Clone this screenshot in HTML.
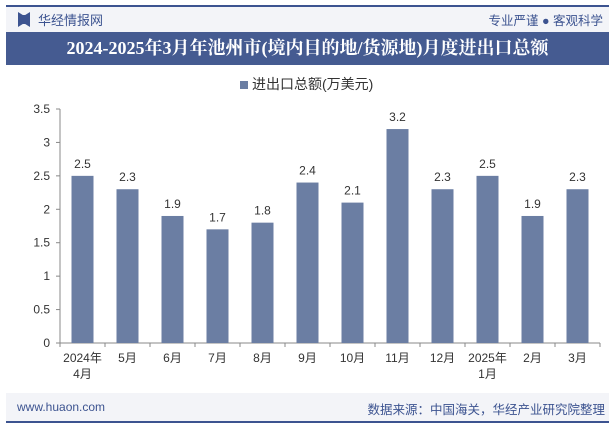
<!DOCTYPE html>
<html><head><meta charset="utf-8"><style>
body{margin:0;width:615px;height:427px;background:#fff;font-family:"Liberation Sans","Noto Sans CJK SC",sans-serif;overflow:hidden;position:relative}
.abs{position:absolute}
</style></head><body>
<div class="abs" style="left:6px;top:5px;width:603px;height:2px;background:#3c5390"></div>
<div class="abs" style="left:6px;top:7px;width:603px;height:25px;background:#f3f4f8"></div>
<div class="abs" style="left:18px;top:12px;width:12px;height:15px;background:#3c5390;clip-path:polygon(0 0,40% 20%,60% 20%,100% 0,100% 100%,60% 80%,40% 80%,0 100%)"></div>
<div class="abs" style="left:38px;top:10px;font-size:13px;color:#3c5390">华经情报网</div>
<div class="abs" style="right:12px;top:10px;font-size:12.5px;color:#3c5390">专业严谨 ● 客观科学</div>
<div class="abs" style="left:6px;top:32px;width:603px;height:33px;background:#455b91;color:#fff;font-size:18px;font-weight:bold;line-height:33px;text-align:center;font-family:'Liberation Serif','Noto Serif CJK SC',serif">2024-2025年3月年池州市(境内目的地/货源地)月度进出口总额</div>
<div class="abs" style="left:240px;top:74px;font-size:14px;color:#333"><span style="display:inline-block;width:8px;height:8px;background:#6b7ea3;margin-right:4px"></span>进出口总额(万美元)</div>
<svg class="abs" style="left:0;top:0" width="615" height="427">
<g id="g"></g>
</svg>
<div class="abs" style="left:6px;top:393px;width:603px;height:28px;background:#f3f4f8"></div>
<div class="abs" style="left:6px;top:421px;width:603px;height:2px;background:#3c5390"></div>
<div class="abs" style="left:17px;top:400px;font-size:12px;color:#3c5390">www.huaon.com</div>
<div class="abs" style="right:10px;top:399px;font-size:12.5px;color:#3c5390">数据来源：中国海关，华经产业研究院整理</div>
<script>
const categories=["2024年\n4月","5月","6月","7月","8月","9月","10月","11月","12月","2025年\n1月","2月","3月"];
const values=[2.5,2.3,1.9,1.7,1.8,2.4,2.1,3.2,2.3,2.5,1.9,2.3];
const yTicks=[0,0.5,1,1.5,2,2.5,3,3.5];
const NS="http://www.w3.org/2000/svg",g=document.getElementById('g');
const x0=60,x1=600,y0=343,yTop=109,yMax=3.5;
const band=(x1-x0)/categories.length;
const y=v=>y0-(v/yMax)*(y0-yTop);
function mk(t,a,txt){const e=document.createElementNS(NS,t);for(const k in a)e.setAttribute(k,a[k]);if(txt!=null)e.textContent=txt;g.appendChild(e);return e;}
const ax=mk('line',{x1:x0,y1:y0,x2:x1,y2:y0,stroke:'#888'});


const ay=mk('line',{x1:x0,y1:yTop,x2:x0,y2:y0,stroke:'#888'});


yTicks.forEach(t=>{
 const l=mk('text',{x:x0-10,y:y(t)+4,'text-anchor':'end','font-size':12,fill:'#333'},String(t));
 
 
 mk('line',{x1:x0-4,y1:y(t),x2:x0,y2:y(t),stroke:'#888'});
});
for(let i=0;i<=categories.length;i++)mk('line',{x1:x0+band*i,y1:y0,x2:x0+band*i,y2:y0+4,stroke:'#888'});
categories.forEach((c,i)=>{
 const cx=x0+band*(i+0.5),v=values[i];
 const b=mk('rect',{x:cx-11,y:y(v),width:22,height:y0-y(v),fill:'#6b7ea3'});
 
 
 const vl=mk('text',{x:cx,y:y(v)-8,'text-anchor':'middle','font-size':12,fill:'#333'},v.toFixed(1));
 
 
 c.split('\n').forEach((ln,j)=>{
  const t=mk('text',{x:cx,y:y0+19+j*16,'text-anchor':'middle','font-size':12,fill:'#333'},ln);
  
  
 });
});
</script>
</body></html>
